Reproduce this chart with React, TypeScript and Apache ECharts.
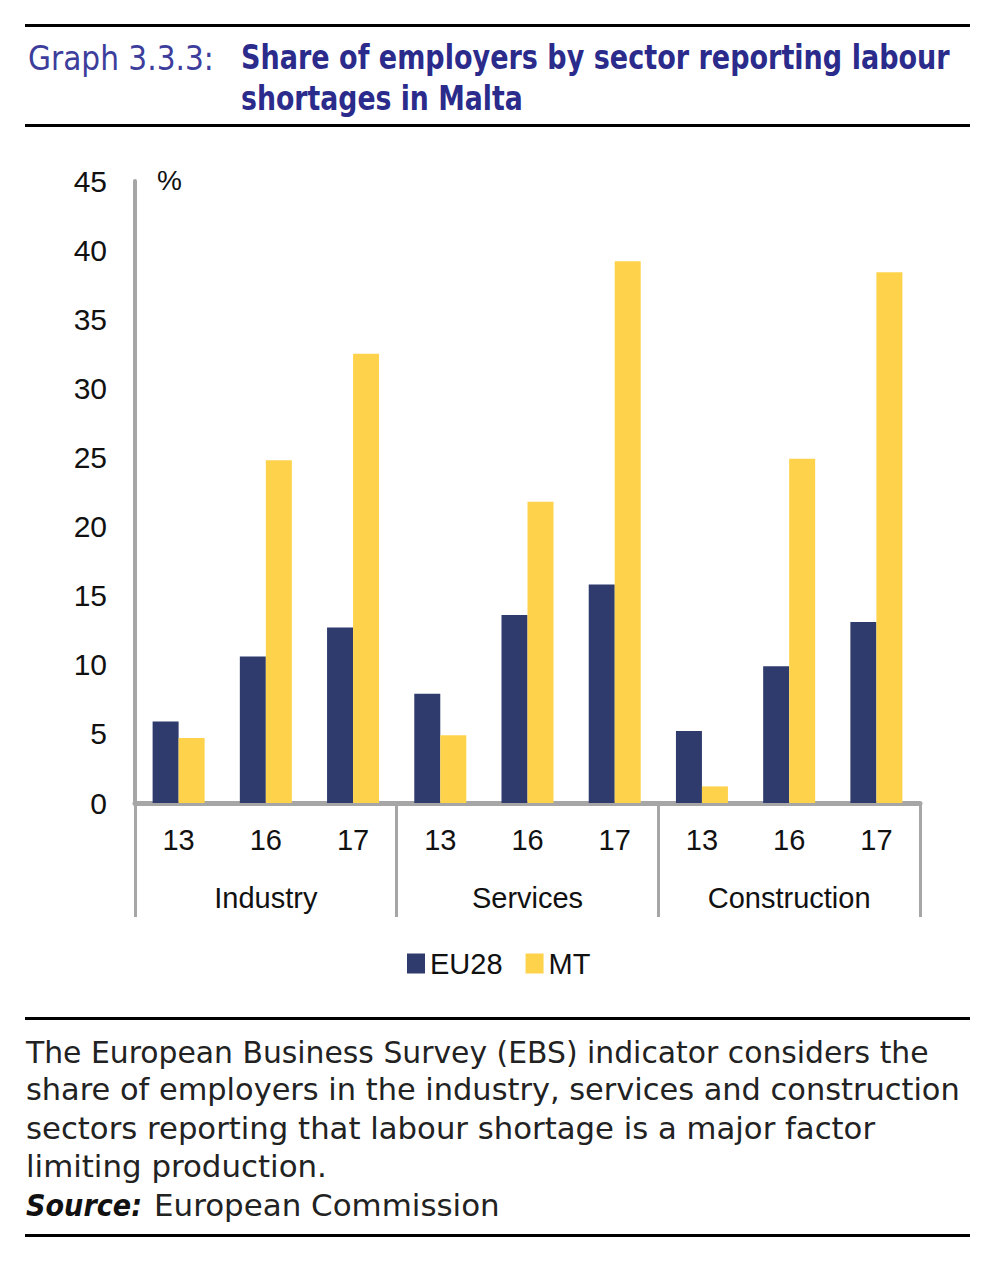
import React, { useEffect, useRef } from "react";
import * as echarts from "echarts";

const categories = ["13", "16", "17", "13", "16", "17", "13", "16", "17"];
const sectors = ["Industry", "Services", "Construction"];
const eu28 = [5.9, 10.6, 12.7, 7.9, 13.6, 15.8, 5.2, 9.9, 13.1];
const mt = [4.7, 24.8, 32.5, 4.9, 21.8, 39.2, 1.2, 24.9, 38.4];
const seriesNames = ["EU28", "MT"];
const titleLabel = "Graph 3.3.3:";
const titleLines = ["Share of employers by sector reporting labour", "shortages in Malta"];
const noteLines = [
  "The European Business Survey (EBS) indicator considers the",
  "share of employers in the industry, services and construction",
  "sectors reporting that labour shortage is a major factor",
  "limiting production.",
];
const sourceLabel = "Source:";
const sourceText = "European Commission";

const FONT_TXT = "DejaVu Sans";
const FONT_AX = "Liberation Sans";

export default function App() {
  const ref = useRef<HTMLDivElement>(null);
  useEffect(() => {
    document.body.style.margin = "0";
    const canvas = document.createElement("canvas");
    const ctx = canvas.getContext("2d")!;
    const fit = (text: string, font: string, target: number) => {
      ctx.font = font;
      const w = ctx.measureText(text).width;
      return w > 0 ? target / w : 1;
    };
    const chart = echarts.init(ref.current!, null, { renderer: "svg" });

    const txt = (
      text: string,
      x: number,
      y: number,
      size: number,
      weight: string,
      style: string,
      color: string,
      target: number
    ) => {
      const font = `${style} ${weight} ${size}px "${FONT_TXT}"`;
      return {
        type: "text",
        x,
        y,
        scaleX: fit(text, font, target),
        style: {
          text,
          fontFamily: FONT_TXT,
          fontSize: size,
          fontWeight: weight,
          fontStyle: style,
          fill: color,
          align: "left",
          verticalAlign: "middle",
        },
      };
    };

    const rule = (y: number) => ({
      type: "rect",
      shape: { x: 25, y, width: 945, height: 3 },
      style: { fill: "#000" },
    });

    const noteY = [1052, 1090, 1129, 1167];
    const noteW = [903, 934, 849, 301];

    const graphic: any[] = [
      rule(24),
      rule(124),
      rule(1017),
      rule(1234),
      txt(titleLabel, 28, 58, 33, "normal", "normal", "#3d3d9c", 186),
      txt(titleLines[0], 241, 58, 33, "bold", "normal", "#2b2b8c", 709),
      txt(titleLines[1], 241, 98, 33, "bold", "normal", "#2b2b8c", 282),
      ...noteLines.map((t, i) => txt(t, 26, noteY[i], 30, "normal", "normal", "#222", noteW[i])),
      txt(sourceLabel, 26, 1206, 30, "bold", "italic", "#111", 116),
      txt(sourceText, 154, 1206, 30, "normal", "normal", "#222", 346),
      {
        type: "text",
        x: 157,
        y: 180,
        style: {
          text: "%",
          fontFamily: FONT_AX,
          fontSize: 28,
          fill: "#111",
          align: "left",
          verticalAlign: "middle",
        },
      },
    ];

    chart.setOption({
      animation: false,
      grid: { left: 135, right: 80, top: 181, bottom: 468, containLabel: false },
      legend: {
        data: seriesNames,
        left: 402,
        top: 944,
        icon: "rect",
        itemWidth: 18,
        itemHeight: 20,
        itemGap: 23,
        textStyle: { fontFamily: FONT_AX, fontSize: 29, color: "#111" },
      },
      xAxis: [
        {
          type: "category",
          data: categories,
          position: "bottom",
          axisLine: { show: true, lineStyle: { color: "#a6a6a6", width: 5 } },
          axisTick: { show: false },
          axisLabel: {
            interval: 0,
            margin: 22,
            fontFamily: FONT_AX,
            fontSize: 29,
            color: "#111",
          },
        },
        {
          type: "category",
          data: sectors,
          position: "bottom",
          axisLine: { show: false },
          axisTick: {
            show: true,
            interval: 0,
            length: 114,
            lineStyle: { color: "#a6a6a6", width: 3 },
          },
          axisLabel: {
            interval: 0,
            margin: 80,
            fontFamily: FONT_AX,
            fontSize: 29,
            color: "#111",
          },
        },
      ],
      yAxis: {
        type: "value",
        min: 0,
        max: 45,
        interval: 5,
        axisLine: { show: true, lineStyle: { color: "#a6a6a6", width: 4 } },
        axisTick: { show: false },
        splitLine: { show: false },
        axisLabel: { margin: 28, fontFamily: FONT_AX, fontSize: 30, color: "#111" },
      },
      series: [
        {
          name: seriesNames[0],
          type: "bar",
          data: eu28,
          barWidth: 26,
          barGap: "0%",
          itemStyle: { color: "#2f3b6d" },
        },
        {
          name: seriesNames[1],
          type: "bar",
          data: mt,
          barWidth: 26,
          barGap: "0%",
          itemStyle: { color: "#fed34b" },
        },
      ],
      graphic,
    });
    return () => chart.dispose();
  }, []);
  return <div ref={ref} style={{ width: 1000, height: 1271 }} />;
}
